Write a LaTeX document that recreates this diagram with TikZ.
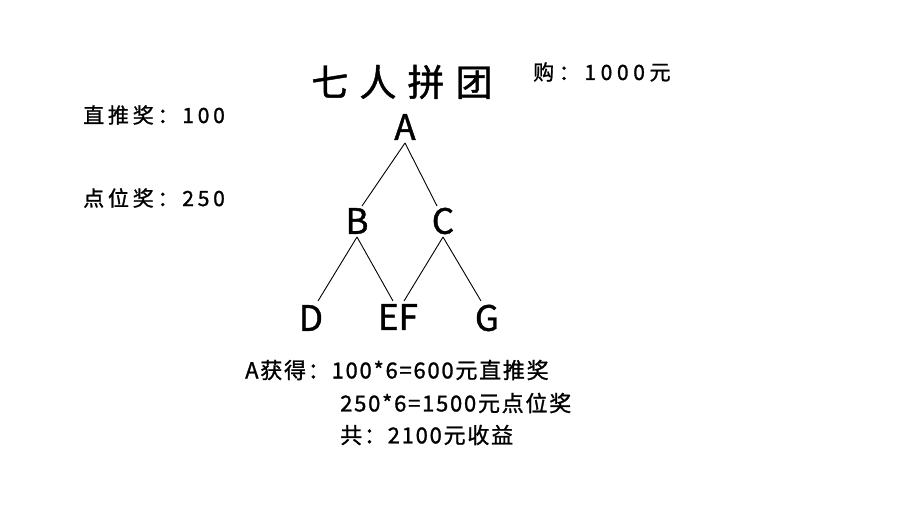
\documentclass[tikz,border=0pt]{standalone}
\usepackage{fontspec}
\setmainfont{Noto Sans CJK SC}[FakeBold=1.2]
\begin{document}
\begin{tikzpicture}[x=1pt,y=-1pt,
  lbl/.style={font=\fontsize{21}{24}\selectfont\addfontfeature{LetterSpace=22},inner sep=0pt},
  letter/.style={font=\fontsize{35}{36}\selectfont,inner sep=0pt},
  txt/.style={font=\fontsize{22}{24}\selectfont\addfontfeature{LetterSpace=8},inner sep=0pt,anchor=west},
  edge/.style={line width=0.9pt}]
\useasboundingbox (0,0) rectangle (912,529);
\node[font=\fontsize{37}{40}\selectfont\addfontfeature{LetterSpace=30},inner sep=0pt] (title) at (402,82) {七人拼团};
\node[lbl,anchor=west] (buy) at (533,72) {购：1000元};
\node[lbl,anchor=west,font=\fontsize{21}{24}\selectfont\addfontfeature{LetterSpace=18}] (zt) at (83,115) {直推奖：100};
\node[lbl,anchor=west,font=\fontsize{21}{24}\selectfont\addfontfeature{LetterSpace=18}] (dw) at (83,198) {点位奖：250};
\node[letter] (A) at (405,127) {A};
\node[letter] (B) at (357,221) {B};
\node[letter] (C) at (443,221) {C};
\node[letter] (D) at (311,318) {D};
\node[letter] (EF) at (398,317) {EF};
\node[letter] (G) at (487,318) {G};
\coordinate (Ab) at (405,143);
\coordinate (Bt) at (362,206);
\coordinate (Ct) at (437,206);
\coordinate (Bb) at (357,237);
\coordinate (Cb) at (443,237);
\coordinate (Dt) at (318,301);
\coordinate (Et) at (393,301);
\coordinate (Ft) at (404,301);
\coordinate (Gt) at (481,301);
\draw[edge] (Ab) -- (Bt);
\draw[edge] (Ab) -- (Ct);
\draw[edge] (Bb) -- (Dt);
\draw[edge] (Bb) -- (Et);
\draw[edge] (Cb) -- (Ft);
\draw[edge] (Cb) -- (Gt);
\node[txt] (l1) at (245,370) {A获得：100*6=600元直推奖};
\node[txt] (l2) at (340,403) {250*6=1500元点位奖};
\node[txt] (l3) at (340,435) {共：2100元收益};
\end{tikzpicture}
\end{document}
